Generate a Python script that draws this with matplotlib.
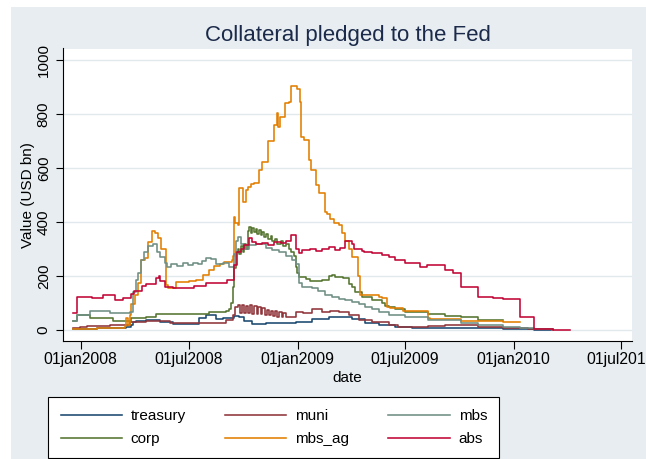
import numpy as np
import pandas as pd
import matplotlib
matplotlib.use("Agg")
import matplotlib.pyplot as plt
from matplotlib.patches import Rectangle

plt.rcParams["font.family"] = ["Liberation Sans", "DejaVu Sans"]

# ---------------
# Data (USD bn)
# x = weeks since the first observation, drawn as steps
# ---------------
start = pd.Timestamp("2007-12-19 12:00")

treasury_wk = [0, 5.6, 12.8, 14, 14.4, 15, 17.6, 20.8, 24, 30.4,
               32, 34.4, 36, 38.8, 40, 41.2, 43.2, 46.4, 53.6, 57.6,
               61.6, 67.2, 70.4, 73.6, 77.6, 81.6, 85.6, 97.6, 103.6, 111.2,
               115.2]
treasury_val = [3, 6, 10, 18, 28, 32, 38, 28, 21, 45,
                55, 40, 44, 52, 47, 33, 23, 25, 31, 40,
                47, 40, 27, 19, 10, 6, 9, 6, 4, 1,
                1]

muni_wk = [0, 1.6, 3.2, 8.8, 13.6, 17.6, 23.2, 30.4, 36.8, 38.4, 39,
           39.6, 40.2, 40.6, 41.2, 41.6, 42.2, 42.6, 43.2, 43.6, 44.2, 44.6, 45.2,
           45.6, 46.2, 46.6, 47.2, 47.6, 48.2, 48.6, 49.2, 49.6, 50.2, 50.6, 51.2,
           53.6, 55.5, 57.6, 60, 62, 64, 66.4, 68.8, 72, 76, 78.4, 85.6,
           89.6, 97.6, 103.6, 109.6, 115.6]
muni_val = [6, 12, 15, 18, 31, 33, 25, 27, 37, 56, 86,
            92, 62, 93, 64, 90, 62, 92, 60, 88, 60, 85, 58,
            82, 56, 75, 54, 72, 52, 70, 50, 66, 50, 62, 49,
            65, 62, 77, 68, 72, 65, 56, 37, 30, 19, 12, 15,
            19, 12, 9, 4, 1]

corp_wk = [0, 1, 4, 9.6, 14, 17.6, 20, 28.8, 32.8, 36.8,
           37.6, 38, 38.4, 38.8, 39.2, 39.6, 40, 40.4, 40.8, 41.2,
           41.6, 42, 42.4, 42.8, 43.2, 43.6, 44, 44.4, 44.8, 45.2,
           45.6, 46, 46.4, 47, 47.6, 48, 48.6, 49.2, 50, 50.6,
           51.2, 52, 52.6, 53.2, 53.6, 54, 54.4, 56, 57, 58.4,
           60, 61.6, 62.4, 63.2, 64, 65, 66.4, 67.2, 68, 69.6,
           72, 74.4, 75.2, 76, 77.6, 80, 85.6, 89.6, 93.6, 97.6,
           103.6]
corp_val = [35, 55, 46, 35, 45, 50, 58, 60, 66, 72,
            76, 99, 160, 230, 290, 300, 280, 310, 290, 320,
            300, 365, 383, 360, 378, 362, 375, 355, 370, 352,
            362, 345, 355, 338, 348, 330, 338, 320, 328, 312,
            318, 300, 290, 275, 235, 210, 198, 190, 182, 180,
            185, 200, 205, 195, 198, 192, 170, 160, 140, 123,
            111, 100, 89, 86, 77, 68, 59, 52, 47, 37,
            37]

mbs_ag_wk = [0, 5.6, 12, 12.4, 12.8, 13.2, 13.6, 14, 14.8, 15.6,
             16.2, 17.4, 18, 19, 19.8, 20.4, 21.2, 22.4, 22.8,
             24.8, 28, 29.6, 31.2, 32.6, 34, 35.4, 36.4, 38.2, 38.6,
             38.8, 39.1, 39.6, 40, 40.8, 41.6, 42.2, 42.8, 43.6, 44.8,
             45.6, 47, 48.4, 49, 49.4, 49.8, 51, 52, 52.6, 54,
             54.6, 55, 55.6, 56.8, 57.2, 58.4, 59.2, 60.6, 61.2, 62,
             62.8, 64, 64.8, 65.6, 66.4, 67.2, 68.6, 69.2, 73.6, 74.4,
             75.6, 76.4, 79.6, 85.6, 86, 93.6, 97.6, 103.6, 107.6]
mbs_ag_val = [2, 6, 8, 15, 45, 20, 55, 95, 130, 175,
              260, 268, 325, 365, 360, 340, 300, 165, 154,
              178, 180, 187, 204, 222, 236, 245, 253, 258, 275,
              420, 395, 390, 527, 475, 519, 530, 541, 546, 593,
              623, 700, 759, 802, 753, 788, 840, 845, 904, 891,
              846, 716, 704, 630, 593, 537, 506, 438, 430, 410,
              398, 389, 360, 330, 300, 272, 200, 130, 123, 120,
              86, 80, 72, 43, 40, 35, 33, 31, 31]

mbs_wk = [0, 1, 4, 8.8, 13.6, 14.4, 15, 15.6, 16.2, 17,
          18, 19.2, 20.2, 21, 22, 22.6, 23.6, 25, 26.4, 27.6,
          28.8, 30, 31, 32, 33.2, 34.4, 36, 37.6, 38.4, 38.8,
          39.2, 39.6, 40.4, 41.2, 42.4, 44, 46.4, 48, 49.6, 51.2,
          52.8, 53.6, 54.4, 55.2, 57.6, 59, 60.8, 62.4, 64, 65.6,
          67.2, 68.8, 70.4, 72, 73.6, 76, 80, 85.6, 93.6, 97.6,
          103.6, 107.6, 111.2, 115.6]
mbs_val = [35, 55, 70, 64, 66, 140, 185, 210, 260, 290,
           310, 318, 290, 270, 250, 235, 245, 238, 248, 240,
           250, 245, 255, 265, 262, 243, 248, 235, 232, 280,
           330, 345, 320, 300, 315, 320, 305, 298, 290, 275,
           260, 245, 173, 160, 154, 145, 128, 122, 115, 110,
           105, 95, 86, 78, 68, 56, 47, 37, 25, 19,
           12, 6, 2, 2]

abs_wk = [0, 1, 4.4, 7.2, 10, 12, 13.8, 14.6, 16.6, 17.6,
          20, 20.6, 21, 22, 24, 29, 32, 37, 38.8, 39.4,
          40.4, 41.2, 42.4, 43.2, 44, 45.6, 47, 48.4, 50, 51.2,
          52.4, 53.8, 54.4, 55.2, 57, 58.4, 60, 61.6, 63, 64.4,
          65.6, 66.4, 67.2, 67.6, 69.6, 70.2, 72, 74.4, 76, 77.6,
          80, 83.6, 85.2, 87.6, 89.6, 91.6, 93.6, 97.6, 101.2, 103.6,
          107.8, 111.2, 115.6, 119.8]
abs_val = [64, 121, 118, 128, 110, 120, 135, 145, 163, 172,
           194, 200, 180, 160, 154, 163, 175, 185, 240, 290,
           300, 315, 340, 325, 318, 322, 315, 325, 322, 330,
           352, 300, 285, 296, 300, 292, 300, 306, 298, 305,
           330, 328, 320, 300, 293, 290, 284, 278, 270, 259,
           247, 235, 241, 241, 222, 210, 160, 123, 117, 115,
           49, 5, 1, 1]

xtick_dates = ["2008-01-01", "2008-07-01", "2009-01-01",
               "2009-07-01", "2010-01-01", "2010-07-01"]
xtick_labels = ["01jan2008", "01jul2008", "01jan2009",
                "01jul2009", "01jan2010", "01jul2010"]
ytick_vals = [0, 200, 400, 600, 800, 1000]

# Stata s2color-like palette
colors = {
    "treasury": "#1a476f",
    "muni": "#90353b",
    "corp": "#55752f",
    "mbs_ag": "#e37e00",
    "mbs": "#6e8e84",
    "abs": "#c10534",
}


def to_dates(wk):
    return start + pd.to_timedelta(np.array(wk) * 7.0, unit="D")


# -------------
# Plot
# -------------
W, H = 646, 459
fig = plt.figure(figsize=(W / 100, H / 100), dpi=100)
fig.patches.append(Rectangle((11 / W, 0), 1 - 11 / W, 452 / H,
                             transform=fig.transFigure,
                             facecolor="#e7edf0", edgecolor="none",
                             zorder=-10))

ax = fig.add_axes([63.3 / W, 118 / H, 568.4 / W, 292.5 / H])
ax.set_zorder(1)
ax.set_facecolor("white")

series = [
    ("treasury", treasury_wk, treasury_val),
    ("muni", muni_wk, muni_val),
    ("corp", corp_wk, corp_val),
    ("mbs_ag", mbs_ag_wk, mbs_ag_val),
    ("mbs", mbs_wk, mbs_val),
    ("abs", abs_wk, abs_val),
]
lines = {}
for name, wk, val in series:
    (h,) = ax.plot(to_dates(wk), val, drawstyle="steps-post",
                   color=colors[name], lw=1.15, label=name)
    lines[name] = h

ax.set_xlim(pd.Timestamp("2007-12-02 14:00"), pd.Timestamp("2010-07-19"))
ax.set_ylim(-40.7, 1042.6)

ax.set_xticks(pd.to_datetime(xtick_dates))
ax.set_xticklabels(xtick_labels)
ax.set_yticks(ytick_vals)
ax.set_yticklabels([str(v) for v in ytick_vals], rotation=90, va="center")

ax.tick_params(axis="x", length=5.5, width=0.8, pad=2.5, labelsize=11.3)
ax.tick_params(axis="y", length=5, width=0.8, pad=4, labelsize=11)

ax.yaxis.grid(True, color="#e2e9ed", lw=1.0)
ax.set_axisbelow(True)
for s in ["top", "right"]:
    ax.spines[s].set_visible(False)
for s in ["left", "bottom"]:
    ax.spines[s].set_color("black")
    ax.spines[s].set_linewidth(0.8)

ax.set_ylabel("Value (USD bn)", fontsize=11, labelpad=1.5)
ax.set_xlabel("date", fontsize=11, labelpad=3)
ax.set_title("Collateral pledged to the Fed", fontsize=16,
             color="#1b2a4a", pad=5.5)

# Legend fills column-first: treasury/corp, muni/mbs_ag, mbs/abs
order = ["treasury", "corp", "muni", "mbs_ag", "mbs", "abs"]
leg = fig.legend([lines[n] for n in order], order, ncol=3,
                 loc="upper left", mode="expand",
                 bbox_to_anchor=(48.3 / W, 0, 451.2 / W, (H - 396.7) / H),
                 bbox_transform=fig.transFigure, borderaxespad=0,
                 fontsize=11, handlelength=4.0, handletextpad=0.6,
                 labelspacing=0.6, borderpad=0.8, fancybox=False,
                 framealpha=1, edgecolor="black")
leg.get_frame().set_linewidth(0.8)

fig.savefig("out.png", dpi=100)
